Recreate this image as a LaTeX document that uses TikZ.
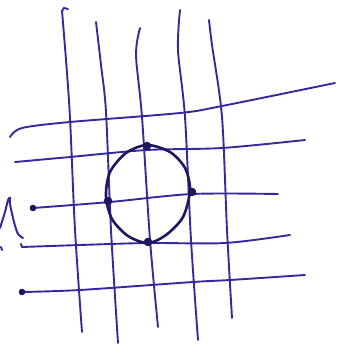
\documentclass[tikz,border=0pt]{standalone}
\usepackage{tikz}
\definecolor{ink}{RGB}{52,42,160}
\definecolor{darkink}{RGB}{30,22,95}
\tikzset{
    gridline/.style={draw=ink, line width=1.9pt, line cap=round},
    ringline/.style={draw=darkink, line width=2.6pt},
    inkdot/.style={fill=darkink, draw=none},
    lambdamark/.style={draw=ink, line width=2pt, line cap=round}
}

\begin{document}
\begin{tikzpicture}[x=1pt, y=-1pt]
    \useasboundingbox (0,0) rectangle (338,346);

    % Vertical lines
    \draw[gridline] (62,11) -- (64,8) -- (68,9);
    \draw[gridline] plot[smooth] coordinates {(62,11) (66,60) (70,118) (75,230) (82,332)};
    \draw[gridline] plot[smooth] coordinates {(96,22) (101,65) (106,112) (111,230) (118,343)};
    \draw[gridline] plot[smooth] coordinates {(140,28) (136,55) (142,117) (150,240) (158,327)};
    \draw[gridline] plot[smooth] coordinates {(180,10) (178,50) (185,117) (191,240) (198,340)};
    \draw[gridline] plot[smooth] coordinates {(209,20) (212,45) (222,117) (227,230) (232,318)};

    % Horizontal lines
    \draw[gridline] plot[smooth] coordinates {(10,137) (22,128) (70,122) (180,113) (222,106) (335,83)};
    \draw[gridline] plot[smooth] coordinates {(15,162) (70,157) (147,150) (222,148) (305,140)};
    \draw[gridline] plot[smooth] coordinates {(33,208) (110,202) (192,194) (278,194)};
    \draw[gridline] plot[smooth] coordinates {(22,247) (80,245) (148,243) (225,243) (290,235)};
    \draw[gridline] plot[smooth] coordinates {(22,292) (80,290) (193,282) (230,280) (305,275)};

    % Circle
    \draw[ringline] plot[smooth cycle] coordinates {(147,145) (170,152) (185,168) (190,190) (183,217) (166,235) (148,243) (128,236) (112,219) (106,196) (110,172) (126,153)};

    % Dots
    \coordinate (top) at (147,146);
    \coordinate (left) at (108,201);
    \coordinate (right) at (192,192);
    \coordinate (bottom) at (148,242);
    \coordinate (start3) at (33,208);
    \coordinate (start5) at (22,292);
    \foreach \p in {top,left,right,bottom}
        \fill[inkdot] (\p) circle (4.3);
    \foreach \p in {start3,start5}
        \fill[inkdot] (\p) circle (3.3);
    \draw[lambdamark] (22,247) -- (21,244);

    % Left mark
    \draw[lambdamark] plot[smooth] coordinates {(0,228) (5,212) (8,200) (10,198) (10,204) (14,222) (18,234) (23,238)};
    \draw[lambdamark] (1,247) -- (2,250);
\end{tikzpicture}
\end{document}
